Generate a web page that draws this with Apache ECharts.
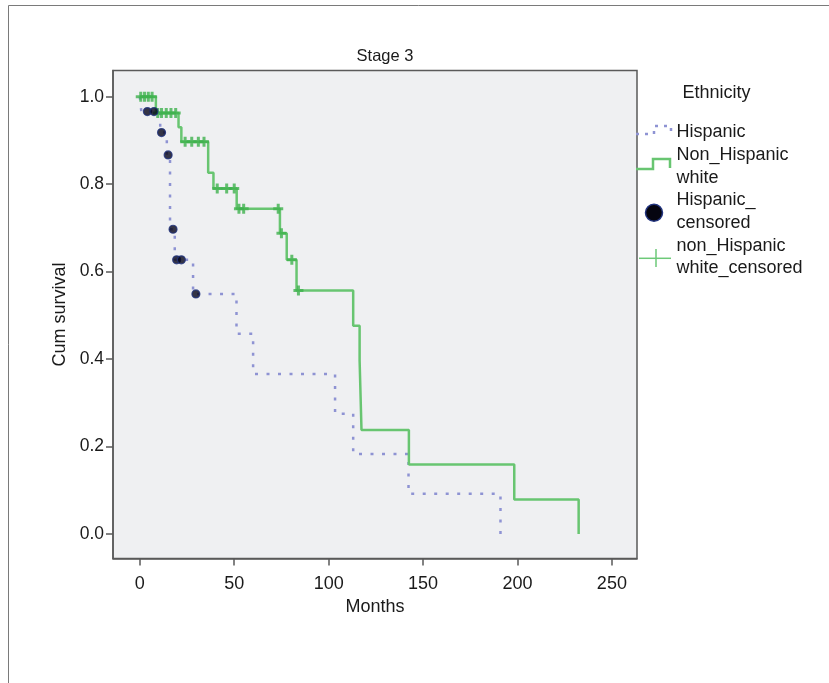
<!DOCTYPE html>
<html>
<head>
<meta charset="utf-8">
<title>Stage 3</title>
<script src="https://cdn.jsdelivr.net/npm/echarts@6/dist/echarts.min.js"></script>
<style>
  html, body { margin: 0; padding: 0; background: #fff; }
  #main { width: 829px; height: 683px; }
</style>
</head>
<body>
<div id="main"></div>
<script>
// Kaplan-Meier steps (months, cum survival)
const hispTimes = [0, 0.8, 10.8, 14.3, 16, 18.5, 28.2, 51.2, 60, 103.4, 113, 142.3, 191];
const hispSurv = [1.0, 0.966, 0.918, 0.867, 0.697, 0.627, 0.549, 0.458, 0.366, 0.275, 0.183, 0.092, 0];
const hispCensT = [4, 7.5, 11.5, 15, 17.6, 19.5, 22, 29.7];
const hispCensS = [0.966, 0.966, 0.918, 0.867, 0.697, 0.627, 0.627, 0.549];

const nhwTimes = [0, 8.5, 20.5, 22, 36.2, 39, 51.3, 74.2, 77.8, 83, 113, 116.4, 117.4, 142.5, 198.3, 232.4];
const nhwSurv = [1.0, 0.963, 0.93, 0.897, 0.826, 0.79, 0.744, 0.688, 0.627, 0.557, 0.476, 0.397, 0.238, 0.159, 0.079, 0];
const nhwCensT = [0.5, 2.5, 4.5, 6.5, 9.5, 11.5, 14, 16.5, 19, 24, 27.5, 31, 34, 41, 46, 50, 52.5, 55, 73.3, 75, 80.5, 84];
const nhwCensS = [1, 1, 1, 1, 0.963, 0.963, 0.963, 0.963, 0.963, 0.897, 0.897, 0.897, 0.897, 0.79, 0.79, 0.79, 0.744, 0.744, 0.744, 0.688, 0.627, 0.557];

const xTicks = [0, 50, 100, 150, 200, 250];
const yTicks = [0, 0.2, 0.4, 0.6, 0.8, 1.0];

const FONT = "'Liberation Sans', Arial, sans-serif";
const HISP_COLOR = "#8e93d3";
const NHW_COLOR = "#68c571";
// chunky plus for the censored marks
const PLUS = "path://M3.5,0 L6.5,0 L6.5,3.5 L10,3.5 L10,6.5 L6.5,6.5 L6.5,10 L3.5,10 L3.5,6.5 L0,6.5 L0,3.5 L3.5,3.5 Z";

const zip = (a, b) => a.map((v, i) => [v, b[i]]);

const chart = echarts.init(document.getElementById("main"));

// legend is drawn by hand, SPSS style
const legendText = (txt, y) => ({
  type: "text",
  x: 676.5,
  y: y,
  style: { text: txt, font: "18px " + FONT, fill: "#1a1a1a", verticalAlign: "middle" },
});

const axisLineStyle = { color: "#5a5a5a", width: 1.5 };

chart.setOption({
  animation: false,
  backgroundColor: "#fff",
  title: {
    text: "Stage 3",
    left: 380,
    top: 43,
    textAlign: "center",
    textStyle: { fontFamily: FONT, fontSize: 16.5, fontWeight: "normal", color: "#1a1a1a" },
  },
  grid: {
    left: 113,
    top: 70.5,
    width: 524,
    height: 488,
    show: true,
    backgroundColor: "#eff0f2",
    borderColor: "#5a5a5a",
    borderWidth: 1.5,
  },
  xAxis: {
    type: "value",
    min: -14.2,
    max: 263.3,
    name: "Months",
    nameLocation: "middle",
    nameGap: 40,
    nameTextStyle: { fontFamily: FONT, fontSize: 18, color: "#1a1a1a" },
    axisLine: { show: true, onZero: false, lineStyle: axisLineStyle },
    axisTick: { show: true, length: 7, customValues: xTicks, lineStyle: axisLineStyle },
    axisLabel: { customValues: xTicks, margin: 17, fontFamily: FONT, fontSize: 18, color: "#1a1a1a" },
    splitLine: { show: false },
  },
  yAxis: {
    type: "value",
    min: -0.056,
    max: 1.06,
    name: "Cum survival",
    nameLocation: "middle",
    nameGap: 38,
    nameTextStyle: { fontFamily: FONT, fontSize: 18, color: "#1a1a1a" },
    axisLine: { show: true, onZero: false, lineStyle: axisLineStyle },
    axisTick: { show: true, length: 7, customValues: yTicks, lineStyle: axisLineStyle },
    axisLabel: {
      customValues: yTicks,
      margin: 9,
      fontFamily: FONT,
      fontSize: 17.5,
      color: "#1a1a1a",
      formatter: (v) => v.toFixed(1),
    },
    splitLine: { show: false },
  },
  series: [
    {
      name: "Hispanic",
      type: "line",
      step: "end",
      data: zip(hispTimes, hispSurv),
      showSymbol: false,
      lineStyle: { color: HISP_COLOR, width: 2.5, type: [3, 8.5], cap: "butt" },
      z: 2,
    },
    {
      name: "Non_Hispanic white",
      type: "line",
      step: "end",
      data: zip(nhwTimes, nhwSurv),
      showSymbol: false,
      lineStyle: { color: NHW_COLOR, width: 2.5 },
      z: 3,
    },
    {
      name: "non_Hispanic white_censored",
      type: "scatter",
      data: zip(nhwCensT, nhwCensS),
      symbol: PLUS,
      symbolSize: 10,
      itemStyle: { color: "#3fb24e" },
      z: 4,
    },
    {
      name: "Hispanic_censored",
      type: "scatter",
      data: zip(hispCensT, hispCensS),
      symbol: "circle",
      symbolSize: 8,
      itemStyle: { color: "#05051a", borderColor: "#22347f", borderWidth: 1.2 },
      z: 5,
    },
  ],
  graphic: [
    // page frame
    { type: "line", shape: { x1: 8.5, y1: 5.5, x2: 829, y2: 5.5 }, style: { stroke: "#7a7a7a", lineWidth: 1 } },
    { type: "line", shape: { x1: 8.5, y1: 5.5, x2: 8.5, y2: 683 }, style: { stroke: "#7a7a7a", lineWidth: 1 } },
    {
      type: "text",
      x: 682.5,
      y: 93,
      style: { text: "Ethnicity", font: "18px " + FONT, fill: "#1a1a1a", verticalAlign: "middle" },
    },
    {
      type: "polyline",
      shape: { points: [[636, 134], [654, 134], [654, 126], [671, 126], [671, 133]] },
      style: { stroke: HISP_COLOR, lineWidth: 2.5, lineDash: [3, 6], fill: null },
    },
    legendText("Hispanic", 131.7),
    {
      type: "polyline",
      shape: { points: [[636, 169], [653, 169], [653, 159], [670, 159], [670, 168]] },
      style: { stroke: NHW_COLOR, lineWidth: 2.5, fill: null },
    },
    legendText("Non_Hispanic", 155),
    legendText("white", 178),
    {
      type: "circle",
      shape: { cx: 654, cy: 212.7, r: 8.5 },
      style: { fill: "#050510", stroke: "#22347f", lineWidth: 1.5 },
    },
    legendText("Hispanic_", 200),
    legendText("censored", 223),
    { type: "line", shape: { x1: 639, y1: 258.3, x2: 671, y2: 258.3 }, style: { stroke: "#6dc978", lineWidth: 1.5 } },
    { type: "line", shape: { x1: 656, y1: 249, x2: 656, y2: 267 }, style: { stroke: "#6dc978", lineWidth: 1.5 } },
    legendText("non_Hispanic", 245.7),
    legendText("white_censored", 268),
  ],
});
</script>
</body>
</html>
